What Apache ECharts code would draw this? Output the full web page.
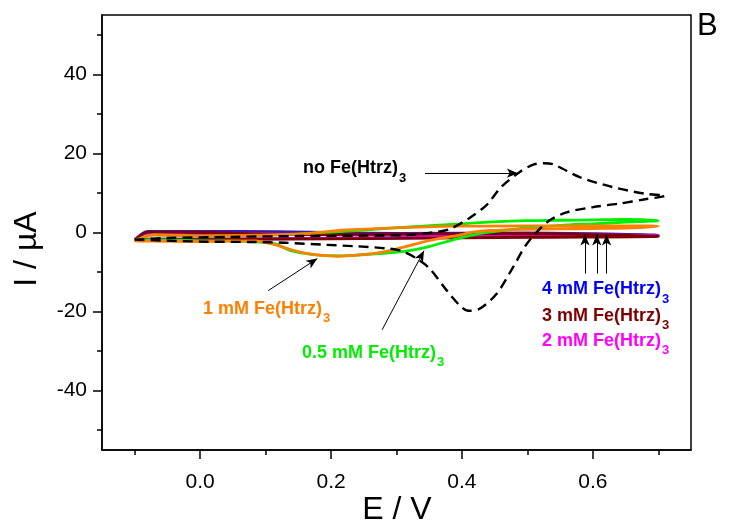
<!DOCTYPE html>
<html>
<head>
<meta charset="utf-8">
<script src="https://cdn.jsdelivr.net/npm/echarts@6/dist/echarts.min.js"></script>
<style>
    html, body { margin: 0; padding: 0; background: #fff; }
    #chart { width: 729px; height: 530px; }
</style>
</head>
<body>
<div id="chart"></div>
<script>
    // ticks
    var xMajor = [0, 0.2, 0.4, 0.6];
    var xMinor = [-0.1, 0.1, 0.3, 0.5, 0.7];
    var yMajor = [-40, -20, 0, 20, 40];
    var yMinor = [-50, -30, -10, 10, 30, 50];

    // no Fe(Htrz)3 (dashed)
    var noFeE = [-0.10, 0.00, 0.08, 0.13, 0.19, 0.24, 0.29, 0.31, 0.33, 0.35, 0.377, 0.397, 0.41, 0.427, 0.453, 0.478, 0.499, 0.53, 0.56, 0.60, 0.64, 0.68, 0.71,
                 0.68, 0.63, 0.58, 0.54, 0.525, 0.51, 0.49, 0.46, 0.438, 0.41, 0.38, 0.355, 0.32, 0.25, 0.15, 0.05, -0.05, -0.10];
    var noFeI = [-1.8, -2.3, -2.4, -2.6, -3.1, -3.5, -4.1, -4.8, -6.5, -9.0, -14.7, -18.5, -19.8, -19.3, -15.5, -8.8, -2.9, 2.6, 5.1, 6.4, 7.3, 8.4, 9.3,
                 9.8, 11.5, 14.0, 17.2, 17.5, 17.2, 15.5, 11.5, 7.0, 3.5, 0.8, 0.0, -0.6, -0.8, -0.9, -1.1, -1.4, -1.8];

    // 0.5 mM (green)
    var halfE = [-0.10, -0.08, 0.0, 0.08, 0.115, 0.135, 0.16, 0.186, 0.211, 0.237, 0.267, 0.298, 0.32, 0.351, 0.392, 0.427, 0.468, 0.504, 0.55, 0.60, 0.65, 0.70,
                 0.65, 0.60, 0.55, 0.50, 0.44, 0.39, 0.34, 0.29, 0.22, 0.15, 0.08, 0.0, -0.07, -0.10];
    var halfI = [-2.0, -1.9, -2.1, -2.3, -2.9, -4.4, -5.3, -5.8, -5.9, -5.7, -5.4, -5.0, -4.6, -3.5, -1.6, -0.3, 0.6, 1.2, 1.8, 2.2, 2.6, 3.0,
                 3.3, 3.2, 3.1, 3.0, 2.6, 2.1, 1.6, 1.1, 0.3, -0.4, -0.8, -0.9, -0.6, -2.0];

    // 1 mM (orange)
    var oneE = [-0.10, -0.08, 0.0, 0.084, 0.11, 0.134, 0.16, 0.186, 0.21, 0.237, 0.267, 0.29, 0.32, 0.351, 0.392, 0.417, 0.443, 0.50, 0.55, 0.60, 0.65, 0.70,
                0.60, 0.50, 0.39, 0.29, 0.21, 0.16, 0.08, 0.0, -0.07, -0.10];
    var oneI = [-2.1, -2.2, -2.3, -2.1, -2.9, -4.1, -5.2, -5.8, -6.0, -5.8, -5.3, -4.6, -3.3, -2.0, -0.8, 0.1, 0.5, 0.8, 0.9, 1.0, 1.1, 1.6,
                1.7, 1.7, 1.6, 1.1, 0.5, -0.3, -0.7, -0.9, -0.6, -2.1];

    // 2 mM (magenta)
    var twoE = [-0.10, -0.08, 0.1, 0.3, 0.5, 0.70, 0.5, 0.3, 0.1, -0.08, -0.10];
    var twoI = [-1.7, -1.6, -1.6, -1.4, -1.1, -0.8, -0.5, -0.6, -0.4, -0.3, -1.7];

    // 3 mM (dark red)
    var threeE = [-0.10, -0.08, 0.1, 0.3, 0.5, 0.70, 0.5, 0.3, 0.15, 0.0, -0.08, -0.10];
    var threeI = [-2.0, -1.9, -1.7, -1.5, -1.2, -1.0, -0.3, -0.4, -0.5, 0.0, 0.1, -2.0];

    // 4 mM (blue)
    var fourE = [-0.10, -0.08, 0.1, 0.3, 0.5, 0.70, 0.5, 0.3, 0.12, 0.0, -0.08, -0.10];
    var fourI = [-1.9, -1.8, -1.6, -1.3, -1.0, -0.7, -0.1, -0.2, 0.2, 0.3, 0.3, -1.9];

    function pairs(e, i) {
        return e.map(function (v, k) { return [v, i[k]]; });
    }

    var font = 'Liberation Sans, Arial, sans-serif';

    function note(x, y, txt, color) {
        return {
            type: 'text', x: x, y: y, z: 100,
            style: {
                text: '{b|' + txt + '}{s|3}',
                fill: color,
                verticalAlign: 'top',
                rich: {
                    b: { fontSize: 18, fontWeight: 'bold', fontFamily: font, fill: color, lineHeight: 20, verticalAlign: 'top' },
                    s: { fontSize: 13, fontWeight: 'bold', fontFamily: font, fill: color, lineHeight: 13, padding: [12, 0, 0, 1], verticalAlign: 'top' }
                }
            }
        };
    }

    function cv(name, e, i, color, width) {
        return {
            name: name,
            type: 'line',
            data: pairs(e, i),
            showSymbol: false,
            smooth: 0.3,
            lineStyle: { color: color, width: width }
        };
    }

    var myChart = echarts.init(document.getElementById('chart'));

    var option = {
        animation: false,
        grid: { left: 102, right: 38, top: 15, bottom: 80, show: true, borderColor: '#000', borderWidth: 1.5 },
        xAxis: [
            {
                type: 'value', min: -0.15, max: 0.75, position: 'bottom',
                axisLine: { show: true, onZero: false, lineStyle: { color: '#000', width: 1.5 } },
                axisTick: { show: true, length: 9, customValues: xMajor, lineStyle: { color: '#000', width: 1.5 } },
                axisLabel: { customValues: xMajor, color: '#000', fontSize: 21, fontFamily: font, margin: 22,
                    formatter: function (v) { return v.toFixed(1); } },
                splitLine: { show: false }
            },
            {
                type: 'value', min: -0.15, max: 0.75, position: 'bottom',
                axisLine: { show: false, onZero: false },
                axisTick: { show: true, length: 5, customValues: xMinor, lineStyle: { color: '#000', width: 1.5 } },
                axisLabel: { show: false },
                splitLine: { show: false }
            }
        ],
        yAxis: [
            {
                type: 'value', min: -55, max: 55, position: 'left',
                axisLine: { show: true, onZero: false, lineStyle: { color: '#000', width: 1.5 } },
                axisTick: { show: true, length: 9, customValues: yMajor, lineStyle: { color: '#000', width: 1.5 } },
                axisLabel: { customValues: yMajor, color: '#000', fontSize: 21, fontFamily: font, margin: 15 },
                splitLine: { show: false }
            },
            {
                type: 'value', min: -55, max: 55, position: 'left',
                axisLine: { show: false, onZero: false },
                axisTick: { show: true, length: 5, customValues: yMinor, lineStyle: { color: '#000', width: 1.5 } },
                axisLabel: { show: false },
                splitLine: { show: false }
            }
        ],
        series: [
            cv('4 mM', fourE, fourI, '#3a1ab0', 2.8),
            cv('2 mM', twoE, twoI, '#ff00ff', 2.8),
            cv('3 mM', threeE, threeI, '#800000', 2.8),
            cv('0.5 mM', halfE, halfI, '#00ee00', 2.8),
            cv('1 mM', oneE, oneI, '#ff8000', 2.8),
            {
                name: 'no Fe',
                type: 'line',
                data: pairs(noFeE, noFeI),
                showSymbol: false,
                smooth: 0.3,
                lineStyle: { color: '#000', width: 2.4, type: [10, 6] },
                markLine: {
                    silent: true,
                    symbol: ['none', 'arrow'],
                    symbolSize: [7, 11],
                    label: { show: false },
                    lineStyle: { color: '#000', width: 1, type: 'solid' },
                    data: [
                        [{ coord: [0.3435, 15.0] }, { coord: [0.4855, 15.0] }],
                        [{ coord: [0.104, -14.7] }, { coord: [0.179, -6.6] }],
                        [{ coord: [0.278, -24.6] }, { coord: [0.342, -4.6] }],
                        [{ coord: [0.588, -10.4] }, { coord: [0.588, -0.5] }],
                        [{ coord: [0.606, -10.4] }, { coord: [0.606, -0.5] }],
                        [{ coord: [0.621, -10.4] }, { coord: [0.621, -0.5] }]
                    ]
                }
            }
        ],
        graphic: [
            note(303, 159.5, 'no Fe(Htrz)', '#000'),
            note(203, 299.8, '1 mM Fe(Htrz)', '#ff8000'),
            note(302, 343.8, '0.5 mM Fe(Htrz)', '#00ee00'),
            note(542, 280.5, '4 mM Fe(Htrz)', '#0000ff'),
            note(542, 307, '3 mM Fe(Htrz)', '#800000'),
            note(542, 332, '2 mM Fe(Htrz)', '#ff00ff'),
            { type: 'text', x: 697, y: 11, style: { text: 'B', fontSize: 31, fontFamily: font, fill: '#000', verticalAlign: 'top' } },
            { type: 'text', x: 27, y: 249, rotation: Math.PI / 2,
              style: { text: 'I / µA', fontSize: 32, fontFamily: font, fill: '#000', align: 'center', verticalAlign: 'middle' } },
            { type: 'text', x: 397, y: 510,
              style: { text: 'E / V', fontSize: 32, fontFamily: font, fill: '#000', align: 'center', verticalAlign: 'middle' } }
        ]
    };

    myChart.setOption(option);
</script>
</body>
</html>
